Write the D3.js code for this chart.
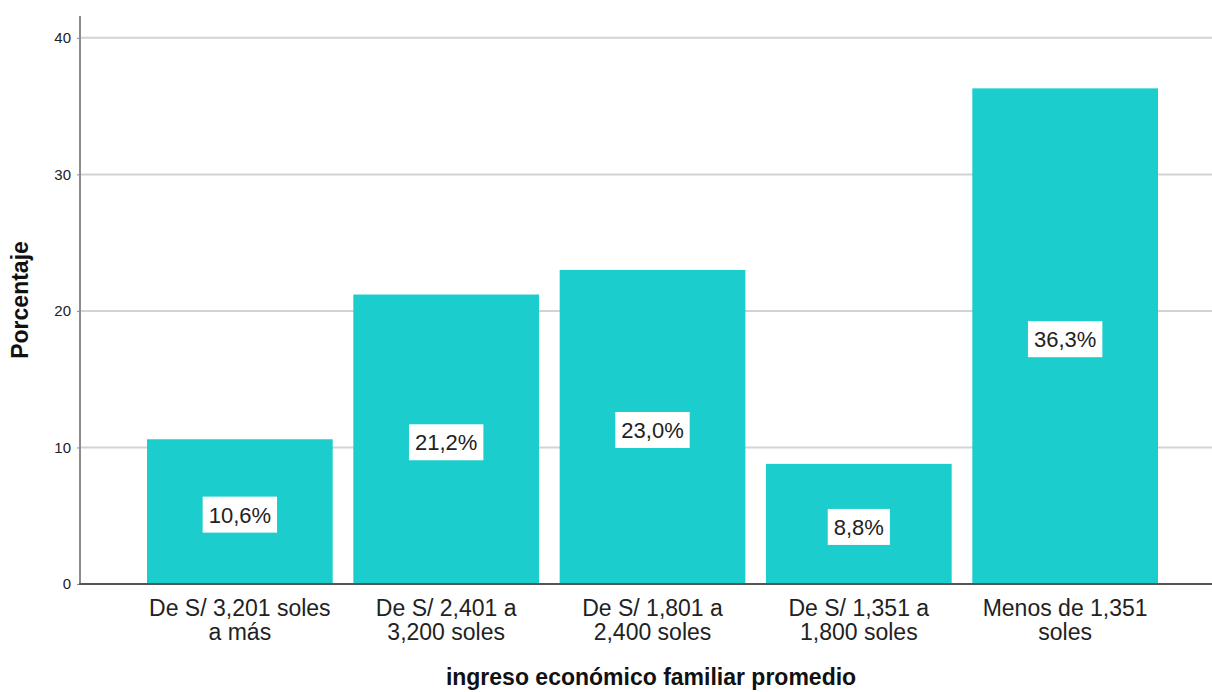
<!DOCTYPE html>
<html>
<head>
<meta charset="utf-8">
<script src="https://cdn.jsdelivr.net/npm/d3@7"></script>
<style>
  body { margin: 0; background: #fff; }
  text { font-family: "Liberation Sans", Arial, sans-serif; }
</style>
</head>
<body>
<svg id="chart" width="1212" height="692"></svg>
<script>
var categories = [
	["De S/ 3,201 soles", "a más"],
	["De S/ 2,401 a", "3,200 soles"],
	["De S/ 1,801 a", "2,400 soles"],
	["De S/ 1,351 a", "1,800 soles"],
	["Menos de 1,351", "soles"]
];
var values = [10.6, 21.2, 23.0, 8.8, 36.3];
var valueLabels = ["10,6%", "21,2%", "23,0%", "8,8%", "36,3%"];
var yTicks = [0, 10, 20, 30, 40];

function draw() {
	var svg = d3.select("#chart");
	var plotLeft = 80, plotRight = 1212, plotTop = 16, plotBottom = 584;

	var x = d3.scaleBand()
		.domain(d3.range(categories.length))
		.range([147, 1158])
		.paddingInner(0.1)
		.paddingOuter(0);

	var y = d3.scaleLinear().domain([0, 41.6]).range([plotBottom, plotTop]);

	// gridlines
	svg.append("g").selectAll("line")
		.data(yTicks.filter(function (d) { return d > 0; }))
		.enter().append("line")
		.attr("x1", plotLeft).attr("x2", plotRight)
		.attr("y1", function (d) { return y(d); })
		.attr("y2", function (d) { return y(d); })
		.attr("stroke", "#d3d3d3").attr("stroke-width", 2);

	// bars
	svg.append("g").selectAll("rect")
		.data(values)
		.enter().append("rect")
		.attr("x", function (d, i) { return x(i); })
		.attr("y", function (d) { return y(d); })
		.attr("width", x.bandwidth())
		.attr("height", function (d) { return y(0) - y(d); })
		.attr("fill", "#1ccdcd");

	// y axis
	var yAxis = svg.append("g")
		.attr("transform", "translate(" + plotLeft + ",0)")
		.call(d3.axisLeft(y).tickValues(yTicks).tickSize(3).tickPadding(6));
	yAxis.select(".domain").attr("stroke", "#8c8c8c").attr("stroke-width", 2)
		.attr("d", "M0," + plotTop + "V" + plotBottom);
	yAxis.selectAll(".tick line").attr("stroke", "#8c8c8c");
	yAxis.selectAll(".tick text").attr("font-size", 15).attr("fill", "#222")
		.attr("font-family", "Liberation Sans, Arial, sans-serif");

	// baseline
	svg.append("line")
		.attr("x1", plotLeft - 1).attr("x2", plotRight)
		.attr("y1", plotBottom).attr("y2", plotBottom)
		.attr("stroke", "#555").attr("stroke-width", 2);

	// category labels
	var catG = svg.append("g").selectAll("text")
		.data(categories)
		.enter().append("text")
		.attr("text-anchor", "middle")
		.attr("font-size", 23)
		.attr("fill", "#222");
	catG.each(function (d, i) {
		var t = d3.select(this);
		d.forEach(function (line, j) {
			t.append("tspan")
				.attr("x", x(i) + x.bandwidth() / 2)
				.attr("y", 616 + j * 24)
				.text(line);
		});
	});

	// value labels
	var labG = svg.append("g").selectAll("g")
		.data(values)
		.enter().append("g")
		.attr("transform", function (d, i) {
			return "translate(" + (x(i) + x.bandwidth() / 2) + "," + (y(d / 2) + 3) + ")";
		});
	labG.append("text")
		.attr("text-anchor", "middle")
		.attr("dy", "0.36em")
		.attr("font-size", 22)
		.attr("fill", "#222")
		.text(function (d, i) { return valueLabels[i]; });
	labG.insert("rect", "text")
		.attr("fill", "#fff")
		.each(function () {
			var bb = this.parentNode.querySelector("text").getBBox();
			d3.select(this)
				.attr("x", bb.x - 6).attr("y", -18)
				.attr("width", bb.width + 12).attr("height", 36);
		});

	// axis titles
	svg.append("text")
		.attr("x", 651).attr("y", 685)
		.attr("text-anchor", "middle")
		.attr("font-size", 23).attr("font-weight", "bold")
		.attr("fill", "#111")
		.text("ingreso económico familiar promedio");

	svg.append("text")
		.attr("transform", "translate(28,300) rotate(-90)")
		.attr("text-anchor", "middle")
		.attr("font-size", 23).attr("font-weight", "bold")
		.attr("fill", "#111")
		.text("Porcentaje");
}

draw();
</script>
</body>
</html>
